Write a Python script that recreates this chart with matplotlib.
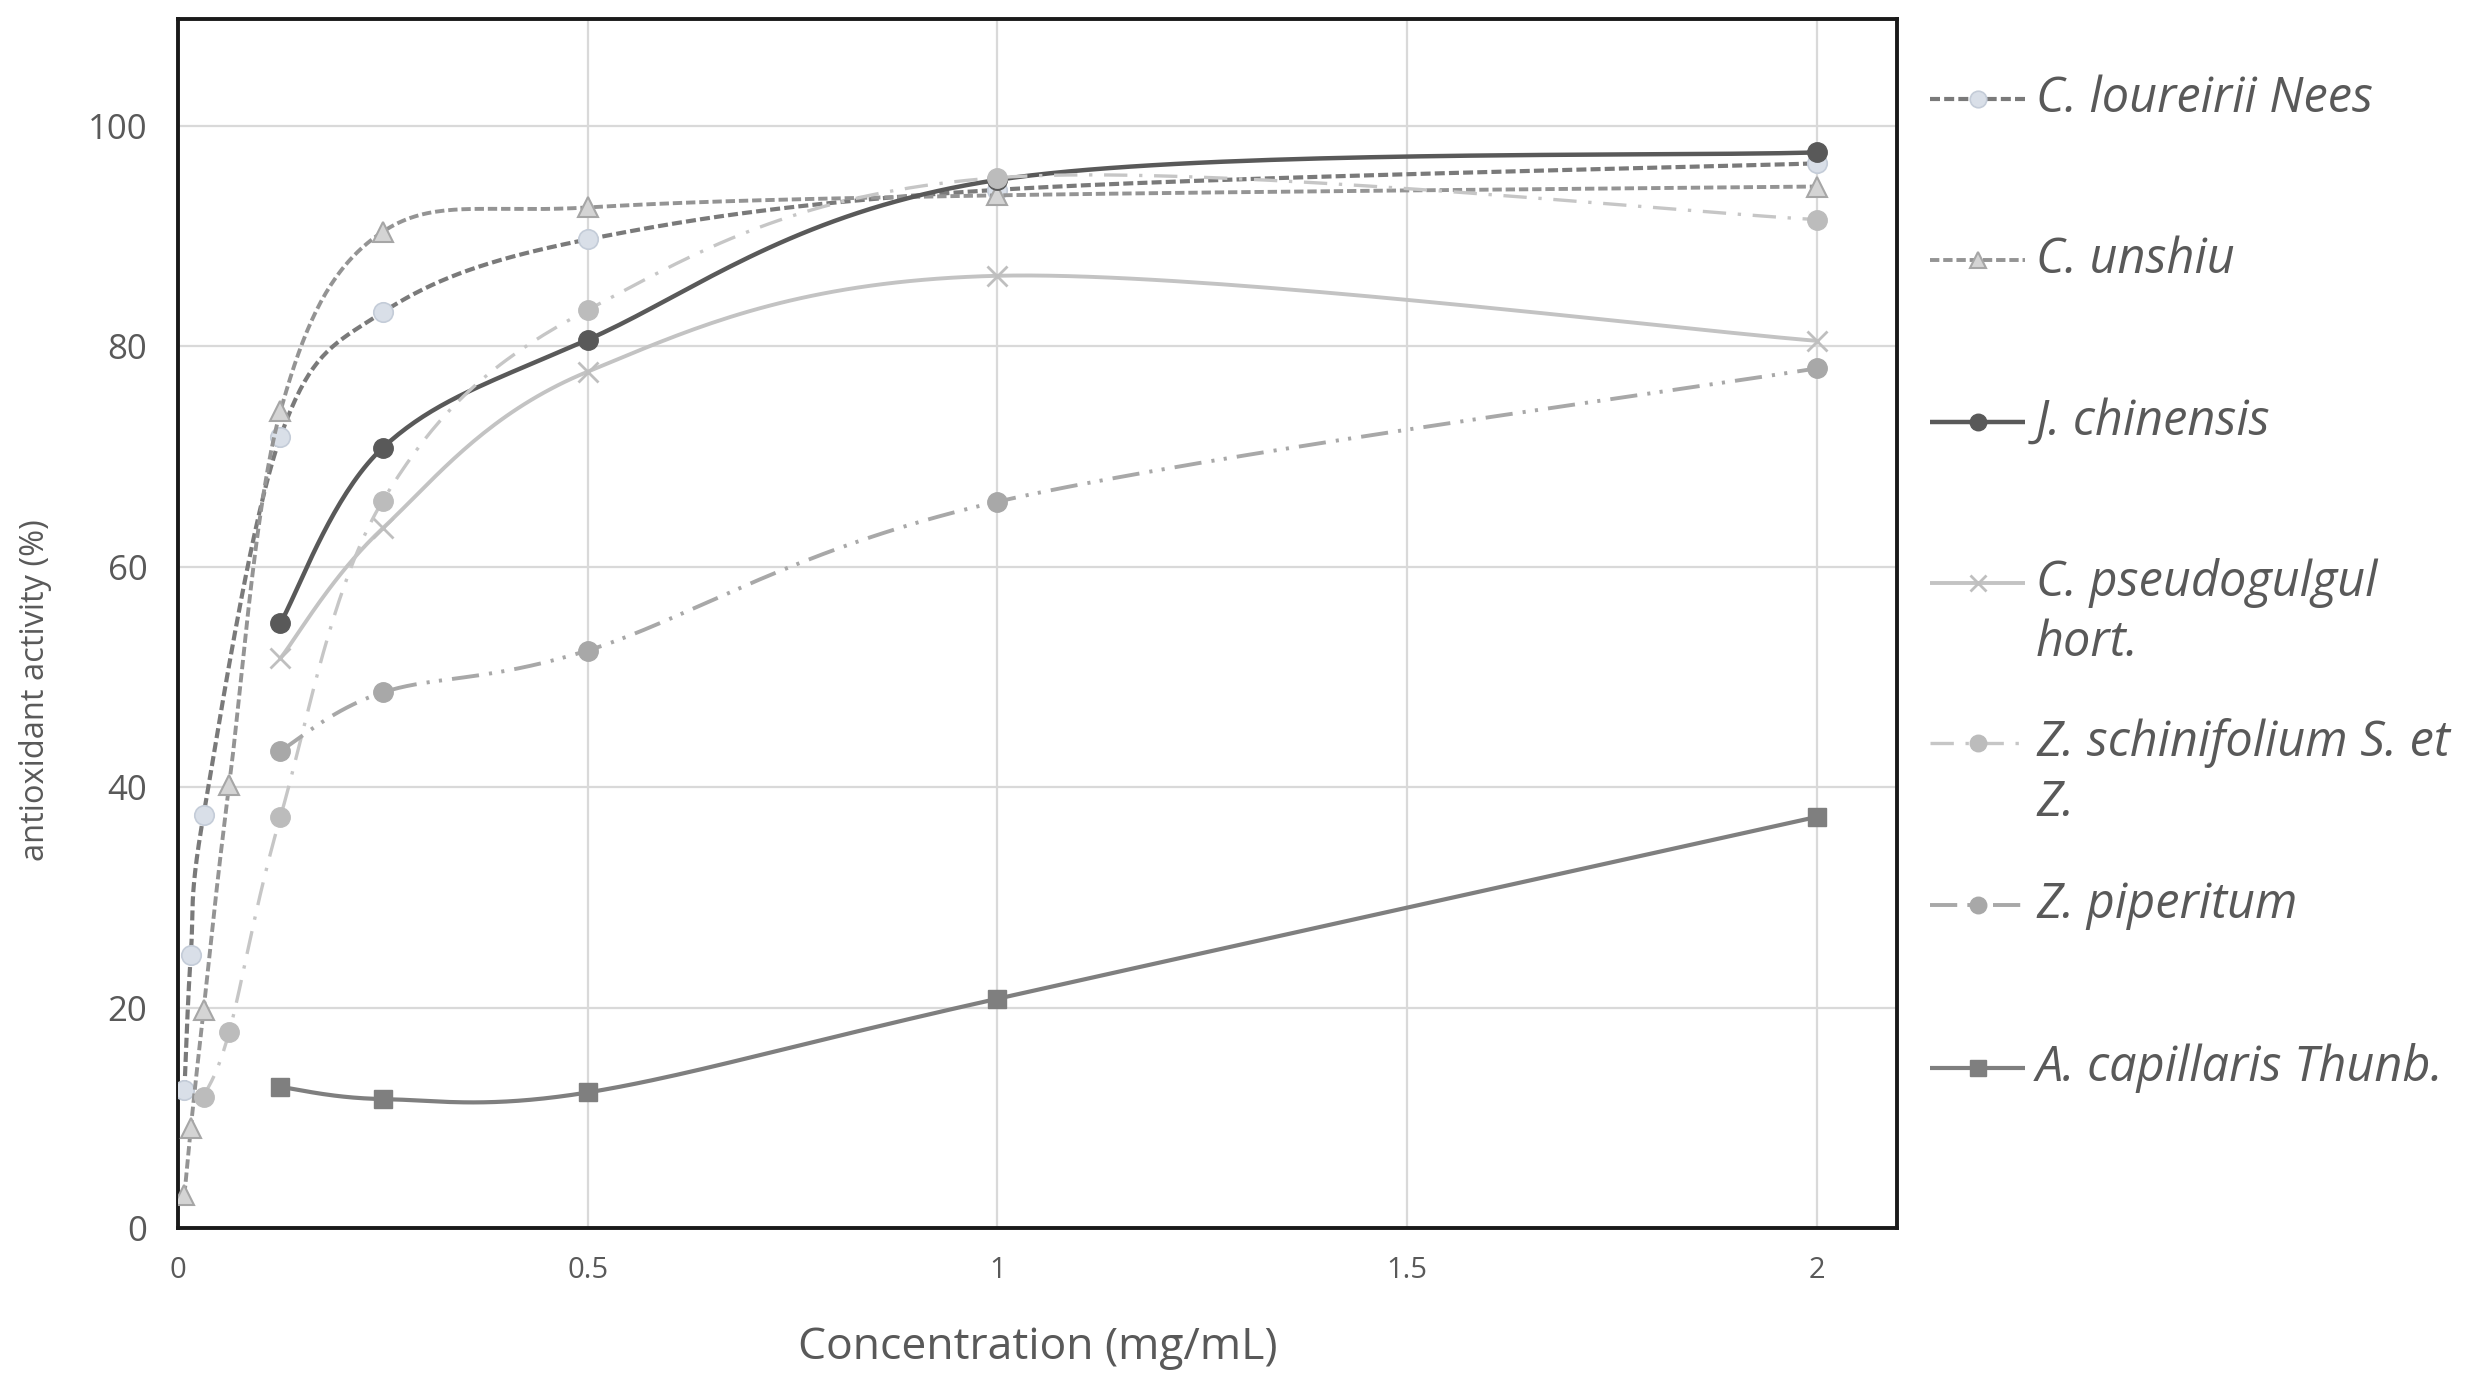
import numpy as np
import matplotlib
matplotlib.use("Agg")
import matplotlib.pyplot as plt
from matplotlib.lines import Line2D
from matplotlib.ticker import FuncFormatter

# ---------------- data ----------------
series_names = [
    "C. loureirii Nees",
    "C. unshiu",
    "J. chinensis",
    "C. pseudogulgul\nhort.",
    "Z. schinifolium S. et\nZ.",
    "Z. piperitum",
    "A. capillaris Thunb.",
]

x_loureirii = [0.0078125, 0.015625, 0.03125, 0.125, 0.25, 0.5, 1, 2]
y_loureirii = [12.5, 24.8, 37.5, 71.8, 83.1, 89.7, 94.2, 96.6]

x_unshiu = [0.0078125, 0.015625, 0.03125, 0.0625, 0.125, 0.25, 0.5, 1, 2]
y_unshiu = [3.0, 9.1, 19.8, 40.2, 74.1, 90.4, 92.6, 93.7, 94.5]

x_chinensis = [0.125, 0.25, 0.5, 1, 2]
y_chinensis = [54.9, 70.8, 80.6, 95.1, 97.6]

x_pseudogulgul = [0.125, 0.25, 0.5, 1, 2]
y_pseudogulgul = [51.7, 63.5, 77.7, 86.4, 80.5]

x_schinifolium = [0.03125, 0.0625, 0.125, 0.25, 0.5, 1, 2]
y_schinifolium = [11.9, 17.8, 37.3, 66.0, 83.3, 95.3, 91.5]

x_piperitum = [0.125, 0.25, 0.5, 1, 2]
y_piperitum = [43.3, 48.6, 52.4, 65.9, 78.0]

x_capillaris = [0.125, 0.25, 0.5, 1, 2]
y_capillaris = [12.8, 11.7, 12.3, 20.8, 37.3]

x_ticks = [0, 0.5, 1, 1.5, 2]
y_ticks = [0, 20, 40, 60, 80, 100]

# ---------------- styles ----------------
styles = [
    dict(color="#7a7a7a", lw=3.0, ls=(0, (2.4, 1.0)), marker="o", ms=14,
         mfc="#d9dfe8", mec="#c4ccd8", mew=1.2),
    dict(color="#949494", lw=2.8, ls=(0, (2.4, 1.0)), marker="^", ms=14,
         mfc="#d4d4d4", mec="#a6a6a6", mew=1.5),
    dict(color="#595959", lw=3.2, ls="-", marker="o", ms=14,
         mfc="#595959", mec="#595959", mew=1.0),
    dict(color="#c3c3c3", lw=2.8, ls="-", marker="x", ms=14,
         mfc="#bfbfbf", mec="#bfbfbf", mew=2.0),
    dict(color="#c6c6c6", lw=2.4, ls=(0, (7, 3.5, 1, 3.5)), marker="o", ms=14,
         mfc="#bcbcbc", mec="#bcbcbc", mew=1.0),
    dict(color="#a8a8a8", lw=2.8, ls=(0, (7, 2.6, 0.8, 2.4, 0.8, 2.6)), marker="o", ms=14,
         mfc="#a8a8a8", mec="#a8a8a8", mew=1.0),
    dict(color="#7f7f7f", lw=3.0, ls="-", marker="s", ms=13,
         mfc="#7f7f7f", mec="#7f7f7f", mew=1.0),
]

data = [
    (x_loureirii, y_loureirii),
    (x_unshiu, y_unshiu),
    (x_chinensis, y_chinensis),
    (x_pseudogulgul, y_pseudogulgul),
    (x_schinifolium, y_schinifolium),
    (x_piperitum, y_piperitum),
    (x_capillaris, y_capillaris),
]


def smooth(xs, ys, n=40):
    """Excel-like smoothed line (Catmull-Rom Bezier)."""
    pts = np.column_stack([xs, ys]).astype(float)
    P = np.vstack([pts[0], pts, pts[-1]])
    out = []
    t = np.linspace(0, 1, n)[:, None]
    for i in range(1, len(P) - 2):
        p0, p1, p2, p3 = P[i - 1], P[i], P[i + 1], P[i + 2]
        c1 = p1 + (p2 - p0) / 6.0
        c2 = p2 - (p3 - p1) / 6.0
        seg = ((1 - t) ** 3) * p1 + 3 * ((1 - t) ** 2) * t * c1 + 3 * (1 - t) * t ** 2 * c2 + t ** 3 * p2
        out.append(seg if i == 1 else seg[1:])
    s = np.vstack(out)
    return s[:, 0], s[:, 1]


plt.rcParams["font.family"] = ["Open Sans", "DejaVu Sans"]

W, H = 2469, 1382
fig = plt.figure(figsize=(W / 100, H / 100), dpi=100)
ax_l, ax_r, ax_t, ax_b = 178, 1897, 19, 1228
ax = fig.add_axes([ax_l / W, 1 - ax_b / H, (ax_r - ax_l) / W, (ax_b - ax_t) / H])

ax.set_xlim(0, 2.098)
ax.set_ylim(0, 109.7)

for k, ((xs, ys), st) in enumerate(zip(data, styles)):
    sx, sy = smooth(xs, ys)
    ax.plot(sx, sy, color=st["color"], lw=st["lw"], ls=st["ls"], zorder=3 + k,
            solid_capstyle="butt", dash_capstyle="butt")
    ax.plot(xs, ys, ls="none", marker=st["marker"], ms=st["ms"], mfc=st["mfc"],
            mec=st["mec"], mew=st["mew"], zorder=3.5 + k)

ax.set_xticks(x_ticks)
ax.set_yticks(y_ticks)
ax.xaxis.set_major_formatter(FuncFormatter(lambda v, p: f"{v:g}"))
ax.grid(True, color="#d9d9d9", lw=1.6, zorder=0)
ax.set_axisbelow(True)
ax.tick_params(length=0, labelcolor="#595959")
ax.tick_params(axis="y", pad=22, labelsize=25)
ax.tick_params(axis="x", pad=20, labelsize=21)
for sp in ax.spines.values():
    sp.set_color("#1a1a1a")
    sp.set_linewidth(2.8)

ax.set_xlabel("Concentration (mg/mL)", fontsize=32, color="#595959")
ax.xaxis.set_label_coords(0.5, -0.099)
ax.xaxis.label.set_va("center")
ax.set_ylabel("antioxidant activity (%)", fontsize=23.5, color="#595959")
ax.yaxis.set_label_coords(-0.083, 0.445)
ax.yaxis.label.set_va("center")

# ---------------- legend (manual) ----------------
leg_y = [99, 260, 422, 583, 743, 905, 1068]
lx0, lx1, lxm, tx = 1930, 2025, 1978, 2036
for k, st in enumerate(styles):
    yf = 1 - leg_y[k] / H
    fig.add_artist(Line2D([lx0 / W, lx1 / W], [yf, yf], transform=fig.transFigure,
                          color=st["color"], lw=st["lw"], ls=st["ls"],
                          solid_capstyle="butt", dash_capstyle="butt"))
    fig.add_artist(Line2D([lxm / W], [yf], transform=fig.transFigure, ls="none",
                          marker=st["marker"], ms=st["ms"] * 0.85, mfc=st["mfc"],
                          mec=st["mec"], mew=st["mew"]))
    for j, ln in enumerate(series_names[k].split("\n")):
        fig.text(tx / W, 1 - (leg_y[k] + j * 60) / H, ln, fontsize=35,
                 style="italic", color="#595959", ha="left", va="center")

fig.savefig("out.png", dpi=100)
